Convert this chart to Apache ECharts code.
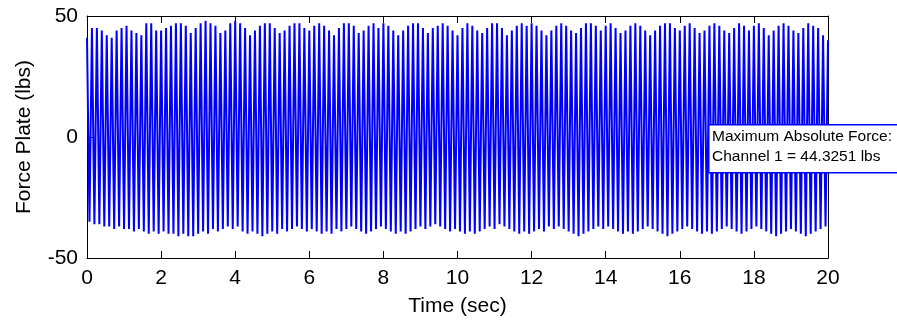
<!DOCTYPE html>
<html>
<head>
<meta charset="utf-8">
<script src="https://cdn.jsdelivr.net/npm/echarts@6/dist/echarts.min.js"></script>
<style>
  html, body { margin: 0; padding: 0; background: #ffffff; }
  #chart { width: 897px; height: 322px; }
</style>
</head>
<body>
<div id="chart"></div>
<script>
// ---- data ----
// seconds between a peak and the following trough (signal ~7.5 Hz)
const sampleStep = 1 / 15;
// peak values (lbs), one per cycle
const peakValues = [
  41, 45, 45, 44, 42, 41, 44, 45, 46, 44, 43, 42, 47, 47, 44,
  44, 45, 46, 47, 47, 46, 43, 45, 47, 48, 47, 46, 43, 44, 47,
  48, 47, 45, 42, 44, 46, 47, 47, 45, 43, 44, 46, 47, 47, 45,
  44, 46, 47, 46, 44, 42, 45, 47, 47, 46, 43, 44, 46, 47, 45,
  47, 46, 44, 42, 44, 46, 47, 47, 45, 43, 45, 46, 47, 46, 44,
  42, 45, 47, 46, 44, 43, 45, 47, 47, 45, 42, 44, 46, 47, 46,
  47, 46, 44, 42, 44, 46, 47, 46, 44, 43, 45, 47, 47, 46, 44,
  46, 47, 45, 43, 44, 46, 47, 46, 44, 42, 44, 46, 47, 47, 45,
  44, 46, 47, 45, 43, 44, 46, 47, 46, 44, 43, 45, 47, 46, 44,
  46, 47, 45, 42, 44, 46, 47, 46, 44, 43, 45, 47, 46, 45, 42,
  40
];
// trough values (lbs), one per cycle
const troughValues = [
  -35, -36, -36, -37, -37, -38, -37, -38, -38, -39, -38, -39, -40, -39, -40,
  -39, -40, -40, -41, -40, -41, -41, -40, -39, -40, -38, -39, -38, -37, -38,
  -37, -39, -40, -39, -40, -41, -40, -39, -40, -38, -39, -38, -37, -38, -39,
  -38, -39, -40, -39, -40, -38, -39, -38, -37, -38, -39, -40, -39, -38, -37,
  -38, -39, -40, -39, -40, -39, -38, -37, -38, -37, -36, -37, -38, -39, -38,
  -39, -40, -39, -40, -39, -38, -37, -38, -36, -37, -38, -39, -40, -39, -40,
  -39, -38, -39, -37, -38, -37, -38, -39, -40, -41, -40, -39, -38, -37, -38,
  -37, -38, -39, -40, -39, -40, -39, -38, -37, -38, -39, -40, -41, -40, -39,
  -38, -37, -38, -39, -40, -39, -40, -39, -38, -37, -38, -39, -40, -39, -38,
  -37, -38, -39, -40, -41, -40, -39, -38, -39, -40, -41, -40, -39, -38, -37
];
const xTicks = [0, 2, 4, 6, 8, 10, 12, 14, 16, 18, 20];
const yTicks = [-50, 0, 50];
const xTitle = 'Time (sec)';
const yTitle = 'Force Plate (lbs)';
const noteLines = ['Maximum Absolute Force:', 'Channel 1 = 44.3251 lbs'];

// ---- build series ----
const seriesData = [];
for (let i = 0; i < peakValues.length; i++) {
  seriesData.push([2 * i * sampleStep, peakValues[i]]);
  if (i < troughValues.length) {
    seriesData.push([(2 * i + 1) * sampleStep, troughValues[i]]);
  }
}

const FONT = '"Liberation Sans", Arial, Helvetica, sans-serif';
const axisCommon = {
  axisLine: { show: true, onZero: false, lineStyle: { color: '#000', width: 1 } },
  axisTick: { show: true, inside: true, length: 7, lineStyle: { color: '#000', width: 1 } },
  splitLine: { show: false }
};

const chart = echarts.init(document.getElementById('chart'), null, { renderer: 'canvas' });
chart.setOption({
  animation: false,
  backgroundColor: '#ffffff',
  grid: { left: 87, right: 69, top: 16, bottom: 64, containLabel: false },
  xAxis: [
    Object.assign({
      type: 'value', min: xTicks[0], max: xTicks[xTicks.length - 1],
      interval: xTicks[1] - xTicks[0], position: 'bottom',
      name: xTitle, nameLocation: 'middle', nameGap: 38,
      nameTextStyle: { fontFamily: FONT, fontSize: 21, color: '#000' },
      axisLabel: { show: true, margin: 10, fontFamily: FONT, fontSize: 21, color: '#000' }
    }, axisCommon),
    Object.assign({
      type: 'value', min: xTicks[0], max: xTicks[xTicks.length - 1],
      interval: xTicks[1] - xTicks[0], position: 'top',
      axisLabel: { show: false }
    }, axisCommon)
  ],
  yAxis: [
    Object.assign({
      type: 'value', min: yTicks[0], max: yTicks[yTicks.length - 1],
      interval: yTicks[1] - yTicks[0], position: 'left',
      name: yTitle, nameLocation: 'middle', nameGap: 52,
      nameTextStyle: { fontFamily: FONT, fontSize: 21, color: '#000' },
      axisLabel: { show: true, margin: 9, fontFamily: FONT, fontSize: 21, color: '#000' }
    }, axisCommon),
    Object.assign({
      type: 'value', min: yTicks[0], max: yTicks[yTicks.length - 1],
      interval: yTicks[1] - yTicks[0], position: 'right',
      axisLabel: { show: false }
    }, axisCommon)
  ],
  series: [{
    type: 'line',
    xAxisIndex: 0,
    yAxisIndex: 0,
    data: seriesData,
    showSymbol: false,
    symbol: 'none',
    clip: true,
    lineStyle: { color: '#0000ff', width: 2 },
    z: 1
  }],
  graphic: [
    { type: 'rect', left: 708, top: 124, z: 100, zlevel: 1,
      shape: { x: 0, y: 0, width: 200, height: 48 },
      style: { fill: '#ffffff', stroke: '#0000ff', lineWidth: 1.5 } },
    { type: 'text', left: 712, top: 129, z: 101, zlevel: 1,
      style: { text: noteLines[0], fill: '#000', font: '15.5px ' + FONT } },
    { type: 'text', left: 712, top: 149, z: 101, zlevel: 1,
      style: { text: noteLines[1], fill: '#000', font: '15.5px ' + FONT } }
  ]
});
</script>
</body>
</html>
